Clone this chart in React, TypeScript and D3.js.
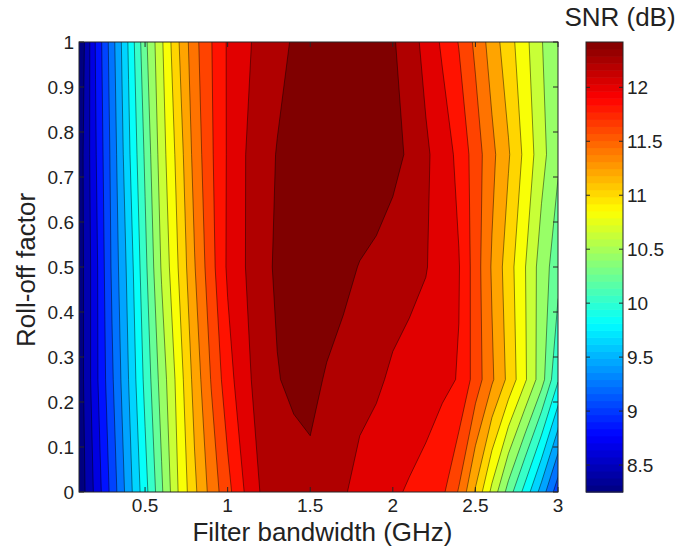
import React, { useMemo } from 'react';
import * as d3 from 'd3';

// ---- data ----
const BANDWIDTH_GHZ = [0.1, 0.2, 0.3, 0.4, 0.5, 0.6, 0.7, 0.8, 0.9, 1.0, 1.1, 1.2, 1.3, 1.4, 1.5, 1.6, 1.7, 1.8, 1.9, 2.0, 2.1, 2.2, 2.3, 2.4, 2.5, 2.6, 2.7, 2.8, 2.9, 3.0];
const ROLL_OFF = [0, 0.25, 0.5, 0.75, 1];

const SNR_ROLLOFF_0 = [8.30, 8.68, 9.08, 9.49, 9.89, 10.30, 10.71, 11.05, 11.35, 11.60, 11.85, 12.05, 12.10, 12.14, 12.17, 12.13, 12.06, 11.98, 11.93, 11.88, 11.83, 11.78, 11.70, 11.45, 11.07, 10.66, 10.25, 9.89, 9.50, 9.08];
const SNR_ROLLOFF_025 = [8.32, 8.76, 9.17, 9.58, 10.01, 10.41, 10.78, 11.16, 11.48, 11.77, 11.98, 12.12, 12.22, 12.27, 12.29, 12.21, 12.15, 12.10, 12.07, 12.01, 11.98, 11.94, 11.89, 11.84, 11.58, 11.31, 11.04, 10.74, 10.41, 9.98];
const SNR_ROLLOFF_05 = [8.32, 8.76, 9.23, 9.64, 10.10, 10.54, 10.90, 11.27, 11.59, 11.88, 12.03, 12.16, 12.26, 12.31, 12.35, 12.34, 12.29, 12.22, 12.18, 12.13, 12.09, 12.05, 11.95, 11.86, 11.57, 11.26, 10.99, 10.72, 10.43, 10.22];
const SNR_ROLLOFF_075 = [8.32, 8.80, 9.26, 9.73, 10.18, 10.62, 10.97, 11.35, 11.63, 11.87, 12.03, 12.14, 12.24, 12.29, 12.34, 12.38, 12.42, 12.40, 12.36, 12.29, 12.20, 12.07, 11.95, 11.80, 11.57, 11.33, 11.11, 10.85, 10.59, 10.36];
const SNR_ROLLOFF_1 = [8.25, 8.83, 9.31, 9.79, 10.28, 10.68, 11.07, 11.41, 11.65, 11.87, 12.00, 12.09, 12.17, 12.25, 12.32, 12.36, 12.38, 12.36, 12.31, 12.25, 12.13, 11.98, 11.82, 11.65, 11.43, 11.19, 10.98, 10.77, 10.53, 10.37];

const CONTOUR_LEVELS = [8.44, 8.63, 8.82, 9.01, 9.20, 9.39, 9.58, 9.77, 9.96, 10.15, 10.33, 10.52, 10.71, 10.90, 11.09, 11.28, 11.47, 11.66, 11.85, 12.04, 12.23];
const C_MIN = 8.25;
const C_MAX = 12.42;

const X_TICKS = [0.5, 1, 1.5, 2, 2.5, 3];
const Y_TICKS = [0, 0.1, 0.2, 0.3, 0.4, 0.5, 0.6, 0.7, 0.8, 0.9, 1];
const CBAR_TICKS = [8.5, 9, 9.5, 10, 10.5, 11, 11.5, 12];

// ---- layout ----
const W = 692;
const H = 551;
const PL = 79, PR = 558, PT = 42, PB = 492;
const CBL = 586, CBR = 623;
const FONT = "'Liberation Sans', Arial, sans-serif";
const TEXT = '#222';

function jet(t: number): string {
  const c = (v: number) => Math.max(0, Math.min(1, v));
  const r = c(1.5 - Math.abs(4 * t - 3));
  const g = c(1.5 - Math.abs(4 * t - 2));
  const b = c(1.5 - Math.abs(4 * t - 1));
  return d3.rgb(r * 255, g * 255, b * 255).formatHex();
}

export default function App() {
  const x = d3.scaleLinear().domain([0.1, 3]).range([PL, PR]);
  const y = d3.scaleLinear().domain([0, 1]).range([PB, PT]);
  const cy = d3.scaleLinear().domain([C_MIN, C_MAX]).range([PB, PT]);

  const nx = BANDWIDTH_GHZ.length;
  const ny = ROLL_OFF.length;
  const gx = d3.scaleLinear().domain([0.5, nx - 0.5]).range([BANDWIDTH_GHZ[0], BANDWIDTH_GHZ[nx - 1]]);
  const gy = d3.scaleLinear().domain([0.5, ny - 0.5]).range([ROLL_OFF[0], ROLL_OFF[ny - 1]]);

  const paths = useMemo(() => {
    const rows = [SNR_ROLLOFF_0, SNR_ROLLOFF_025, SNR_ROLLOFF_05, SNR_ROLLOFF_075, SNR_ROLLOFF_1];
    const values: number[] = [];
    rows.forEach((r) => r.forEach((v) => values.push(v)));
    const cs = d3.contours().size([nx, ny]).thresholds(CONTOUR_LEVELS)(values);
    return cs.map((c, i) => {
      let d = '';
      c.coordinates.forEach((poly) => {
        poly.forEach((ring) => {
          ring.forEach((p, j) => {
            const px = x(gx(p[0]));
            const py = y(gy(p[1]));
            d += (j === 0 ? 'M' : 'L') + px.toFixed(2) + ',' + py.toFixed(2);
          });
          d += 'Z';
        });
      });
      return { d, color: jet((i + 1) / CONTOUR_LEVELS.length) };
    });
  }, []);

  const nBins = 64;
  const bins = d3.range(nBins);
  const binH = (PB - PT) / nBins;

  return (
    <svg width={W} height={H} style={{ position: 'absolute', left: 0, top: 0, background: '#fff' }}
      fontFamily={FONT}>
      <defs>
        <clipPath id="plotclip">
          <rect x={PL} y={PT} width={PR - PL} height={PB - PT} />
        </clipPath>
      </defs>
      <rect x={0} y={0} width={W} height={H} fill="#fff" />
      <g clipPath="url(#plotclip)">
        <rect x={PL} y={PT} width={PR - PL} height={PB - PT} fill={jet(0)} />
        {paths.map((p, i) => (
          <path key={i} d={p.d} fill={p.color} stroke="#000" strokeOpacity={0.65} strokeWidth={0.7} strokeLinejoin="round" />
        ))}
      </g>
      {/* axes box */}
      <rect x={PL} y={PT} width={PR - PL} height={PB - PT} fill="none" stroke="#262626" strokeWidth={1} />
      {X_TICKS.map((t) => (
        <g key={'x' + t}>
          <line x1={x(t)} x2={x(t)} y1={PB} y2={PB - 5} stroke="#262626" />
          <line x1={x(t)} x2={x(t)} y1={PT} y2={PT + 5} stroke="#262626" />
          <text x={x(t)} y={512} textAnchor="middle" fontSize={19} fill={TEXT}>{String(t)}</text>
        </g>
      ))}
      {Y_TICKS.map((t) => (
        <g key={'y' + t}>
          <line x1={PL} x2={PL + 5} y1={y(t)} y2={y(t)} stroke="#262626" />
          <line x1={PR} x2={PR - 5} y1={y(t)} y2={y(t)} stroke="#262626" />
          <text x={74} y={y(t)} dy="0.36em" textAnchor="end" fontSize={19} fill={TEXT}>{String(t)}</text>
        </g>
      ))}
      <text x={(PL + PR) / 2 + 4} y={541} textAnchor="middle" fontSize={26} fill={TEXT}>Filter bandwidth (GHz)</text>
      <text transform={`translate(35,${(PT + PB) / 2 + 3}) rotate(-90)`} textAnchor="middle" fontSize={26} fill={TEXT}>Roll-off factor</text>

      {/* colorbar */}
      {bins.map((i) => (
        <rect key={'cb' + i} x={CBL} y={PB - (i + 1) * binH} width={CBR - CBL} height={binH + 0.6}
          fill={jet((i + 0.5) / nBins)} />
      ))}
      <rect x={CBL} y={PT} width={CBR - CBL} height={PB - PT} fill="none" stroke="#262626" strokeWidth={1} />
      {CBAR_TICKS.map((t) => (
        <g key={'c' + t}>
          <line x1={CBL} x2={CBL + 4} y1={cy(t)} y2={cy(t)} stroke="#262626" />
          <line x1={CBR} x2={CBR - 4} y1={cy(t)} y2={cy(t)} stroke="#262626" />
          <text x={627} y={cy(t)} dy="0.36em" textAnchor="start" fontSize={19} fill={TEXT}>{String(t)}</text>
        </g>
      ))}
      <text x={620} y={26} textAnchor="middle" fontSize={26} fill={TEXT}>SNR (dB)</text>
    </svg>
  );
}
